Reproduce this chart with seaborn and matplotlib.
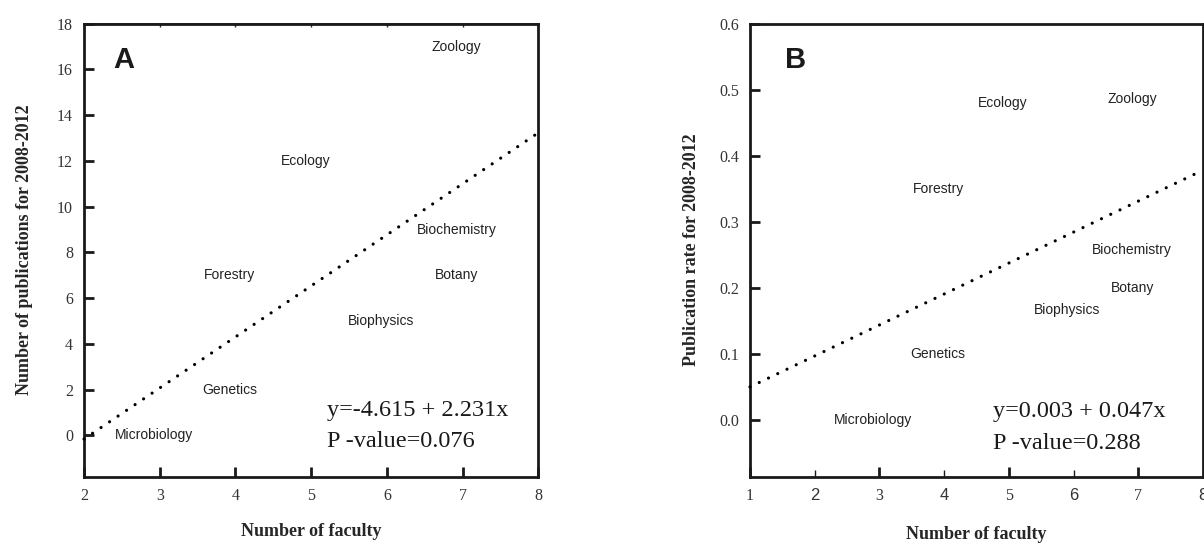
import matplotlib
matplotlib.use("Agg")
import matplotlib.pyplot as plt
import numpy as np
import pandas as pd
import seaborn as sns

# departments, faculty counts, publications 2008-2012 and publication rate
departments = ["Zoology", "Ecology", "Biochemistry", "Botany",
               "Forestry", "Biophysics", "Genetics", "Microbiology"]
faculty = [7, 5, 7, 7, 4, 6, 4, 3]
publications = [17, 12, 9, 7, 7, 5, 2, 0]
pub_rate = [0.486, 0.48, 0.257, 0.2, 0.35, 0.167, 0.1, 0.0]

eq_a = ["y=-4.615 + 2.231x", "P -value=0.076"]
eq_b = ["y=0.003 + 0.047x", "P -value=0.288"]

df = pd.DataFrame({"dept": departments, "faculty": faculty,
                   "pubs": publications, "rate": pub_rate})

sns.set_theme(style="ticks")
SERIF = "Liberation Serif"
SANS = "Liberation Sans"
plt.rcParams["font.family"] = SERIF

fig = plt.figure(figsize=(12.04, 5.46), dpi=100)
ax_a = fig.add_axes([0.0698, 0.127, 0.3773, 0.8297])
ax_b = fig.add_axes([0.6229, 0.127, 0.3762, 0.8297])

dot_kws = dict(color="black", lw=2.3, linestyle=(0, (0.01, 3.2)),
               dash_capstyle="round", zorder=3, clip_on=False)


def style_axes(ax):
    for s in ax.spines.values():
        s.set_linewidth(2.0)
        s.set_color("#1a1a1a")
        s.set_visible(True)
    ax.tick_params(axis="y", which="major", direction="in", length=7,
                   width=2, pad=8, labelsize=11.5, colors="#1a1a1a",
                   labelcolor="#333333")
    ax.tick_params(axis="x", which="both", direction="in", pad=8,
                   labelsize=11.5, colors="#1a1a1a", labelcolor="#333333")
    for lab in ax.get_xticklabels() + ax.get_yticklabels():
        lab.set_family(SERIF)


def label_points(ax, xcol, ycol):
    for _, r in df.iterrows():
        ax.annotate(r["dept"], (r[xcol], r[ycol]), xytext=(-4.3, 0),
                    textcoords="offset points", ha="center", va="center",
                    fontsize=10, family=SANS, color="#222222")


# ---- Panel A ----
ax_a.set_xlim(2, 8)
ax_a.set_ylim(-1.8, 18)
sns.regplot(data=df, x="faculty", y="pubs", ax=ax_a, scatter=False,
            ci=None, truncate=False, line_kws=dot_kws)
ax_a.set_xlim(2, 8)
ax_a.set_ylim(-1.8, 18)
label_points(ax_a, "faculty", "pubs")
ax_a.set_xticks(range(2, 9))
ax_a.set_yticks(range(0, 19, 2))
style_axes(ax_a)
ax_a.tick_params(axis="x", which="major", length=7, width=2)
ax_a.secondary_xaxis("top").tick_params(direction="in", length=2.5,
                                        width=1, labeltop=False)
ax_a.set_xlabel("Number of faculty", fontsize=13, fontweight="bold",
                family=SERIF, labelpad=14)
ax_a.set_ylabel("Number of publications for 2008-2012", fontsize=13,
                fontweight="bold", family=SERIF, labelpad=17)
ax_a.text(0.088, 0.92, "A", transform=ax_a.transAxes, fontsize=21,
          fontweight="bold", family=SANS, ha="center", va="center",
          color="#1a1a1a")
ax_a.text(0.535, 0.147, eq_a[0], transform=ax_a.transAxes, fontsize=17.5,
          family=SERIF, va="center", color="#1a1a1a")
ax_a.text(0.535, 0.077, eq_a[1], transform=ax_a.transAxes, fontsize=17.5,
          family=SERIF, va="center", color="#1a1a1a")

# ---- Panel B ----
ax_b.set_xlim(1, 8)
ax_b.set_ylim(-0.086, 0.6)
sns.regplot(data=df, x="faculty", y="rate", ax=ax_b, scatter=False,
            ci=None, truncate=False, line_kws=dot_kws)
ax_b.set_xlim(1, 8)
ax_b.set_ylim(-0.086, 0.6)
label_points(ax_b, "faculty", "rate")
ax_b.set_xticks([1, 3, 5, 7])
ax_b.set_xticks([2, 4, 6, 8], minor=True)
ax_b.set_xticklabels(["2", "4", "6", "8"], minor=True)
ax_b.set_yticks(np.round(np.arange(0, 0.61, 0.1), 1))
ax_b.set_yticklabels([f"{v:.1f}" for v in np.arange(0, 0.61, 0.1)])
style_axes(ax_b)
ax_b.tick_params(axis="x", which="major", length=7, width=2)
ax_b.tick_params(axis="x", which="minor", length=5, width=1, pad=8,
                 labelsize=12)
for lab in ax_b.get_xticklabels(minor=True):
    lab.set_family(SANS)
ax_b.set_xlabel("Number of faculty", fontsize=13, fontweight="bold",
                family=SERIF, labelpad=16)
ax_b.set_ylabel("Publication rate for 2008-2012", fontsize=13,
                fontweight="bold", family=SERIF, labelpad=14)
ax_b.text(0.101, 0.92, "B", transform=ax_b.transAxes, fontsize=21,
          fontweight="bold", family=SANS, ha="center", va="center",
          color="#1a1a1a")
ax_b.text(0.536, 0.1435, eq_b[0], transform=ax_b.transAxes, fontsize=17.5,
          family=SERIF, va="center", color="#1a1a1a")
ax_b.text(0.536, 0.074, eq_b[1], transform=ax_b.transAxes, fontsize=17.5,
          family=SERIF, va="center", color="#1a1a1a")

fig.savefig("out.png", dpi=100, facecolor="white")
